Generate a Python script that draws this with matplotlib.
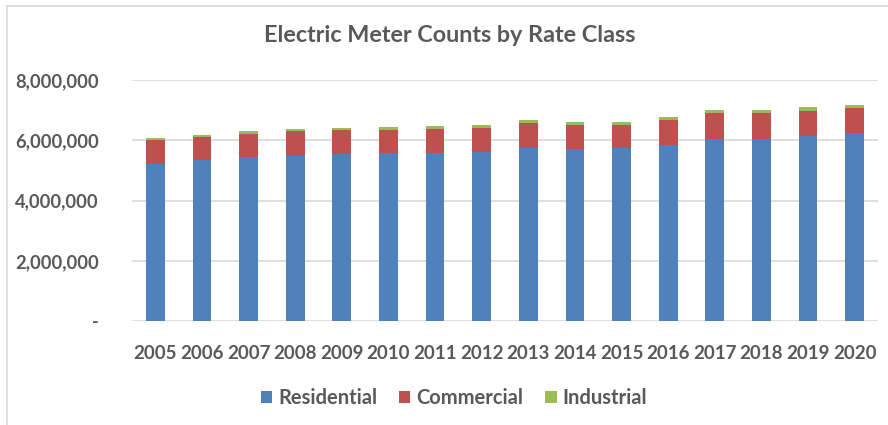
import matplotlib
matplotlib.use("Agg")
import matplotlib.pyplot as plt
from matplotlib.ticker import FuncFormatter
from matplotlib.lines import Line2D
import numpy as np

# Données
annees = ["2005", "2006", "2007", "2008", "2009", "2010", "2011", "2012",
          "2013", "2014", "2015", "2016", "2017", "2018", "2019", "2020"]
residentiel = [5230000, 5340000, 5450000, 5500000, 5540000, 5590000, 5590000, 5630000,
               5750000, 5730000, 5750000, 5860000, 6060000, 6060000, 6140000, 6250000]
commercial = [770000, 770000, 760000, 800000, 800000, 770000, 800000, 800000,
              820000, 780000, 780000, 830000, 850000, 850000, 850000, 840000]
industriel = [70000, 80000, 90000, 90000, 90000, 100000, 90000, 70000,
              100000, 120000, 100000, 80000, 90000, 90000, 120000, 90000]

BLEU = "#4F81BD"
ROUGE = "#C0504D"
VERT = "#9BBB59"
GRIS_TEXTE = "#595959"
GRIS_GRILLE = "#D9D9D9"

plt.rcParams['font.family'] = ['Lato', 'DejaVu Sans']

fig = plt.figure(figsize=(8.88, 4.25), dpi=100)
ax = fig.add_axes([132/888, 1 - 321/425, (878 - 132)/888, (321 - 80.3)/425])

x = np.arange(len(annees))
bas2 = np.array(residentiel) + np.array(commercial)
ax.bar(x, residentiel, width=0.4, color=BLEU, label="Residential")
ax.bar(x, commercial, width=0.4, bottom=residentiel, color=ROUGE, label="Commercial")
ax.bar(x, industriel, width=0.4, bottom=bas2, color=VERT, label="Industrial")

ax.set_xlim(-0.5, len(annees) - 0.5)
ax.set_ylim(0, 8000000)
ax.set_yticks([0, 2000000, 4000000, 6000000, 8000000])

def fmt(v, pos):
    if v == 0:
        return "-"
    return "{:,.0f}".format(v)

ax.yaxis.set_major_formatter(FuncFormatter(fmt))
ax.set_xticks(x)
ax.set_xticklabels(annees)

ax.grid(axis='y', color=GRIS_GRILLE, linewidth=1.2)
ax.set_axisbelow(True)
for s in ["top", "right", "left", "bottom"]:
    ax.spines[s].set_visible(False)
ax.tick_params(length=0, colors=GRIS_TEXTE)
ax.tick_params(axis='y', pad=24, labelsize=13.2)
ax.tick_params(axis='x', pad=17, labelsize=13.5)
for t in ax.get_xticklabels() + ax.get_yticklabels():
    t.set_fontweight('bold')

fig.text(449.5/888, 1 - 36/425, "Electric Meter Counts by Rate Class",
         ha='center', va='center', fontsize=16.8, fontweight='bold', color=GRIS_TEXTE)

leg = fig.legend(loc='center', bbox_to_anchor=(454/888, 1 - 398/425), ncol=3,
                 frameon=False, handlelength=0.55, handleheight=0.55,
                 handletextpad=0.3, columnspacing=1.1,
                 prop={'size': 14.5, 'weight': 'bold'})
for t in leg.get_texts():
    t.set_color(GRIS_TEXTE)

# cadre du graphique
fig.add_artist(Line2D([7/888, 7/888], [0, 1 - 6/425], color=GRIS_GRILLE, lw=1.2))
fig.add_artist(Line2D([7/888, 1], [1 - 6/425, 1 - 6/425], color=GRIS_GRILLE, lw=1.2))

fig.savefig("out.png", dpi=100)
